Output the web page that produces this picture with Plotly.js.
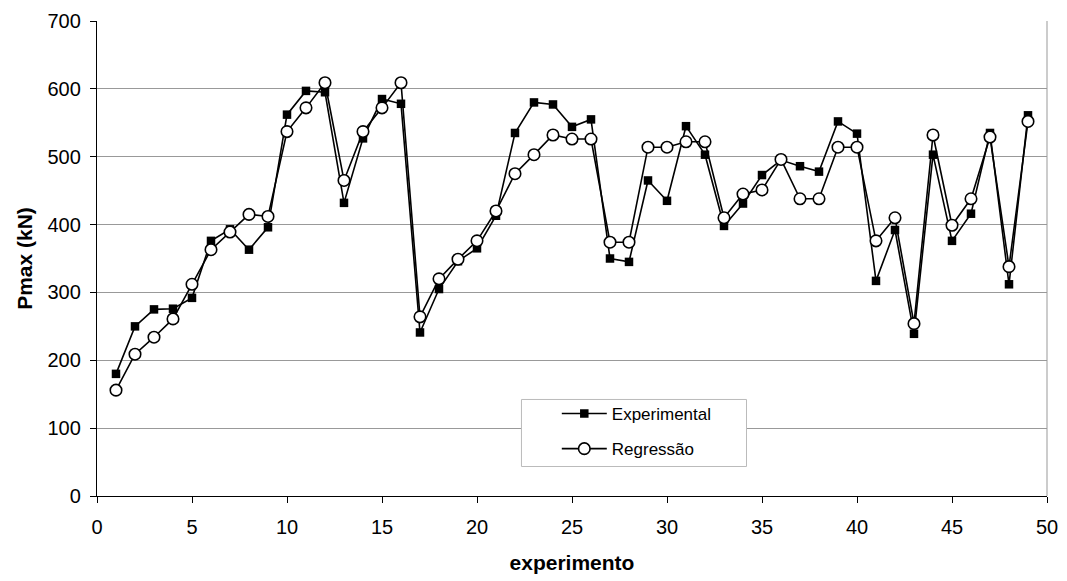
<!DOCTYPE html>
<html>
<head>
<meta charset="utf-8">
<script src="https://cdn.plot.ly/plotly-3.0.1.min.js"></script>
<style>html,body{margin:0;padding:0;background:#fff}#chart{width:1067px;height:581px}</style>
</head>
<body>
<div id="chart"></div>
<script>
const experimento = [1,2,3,4,5,6,7,8,9,10,11,12,13,14,15,16,17,18,19,20,21,22,23,24,25,26,27,28,29,30,31,32,33,34,35,36,37,38,39,40,41,42,43,44,45,46,47,48,49];
const experimental = [180,250,275,276,292,376,393,363,396,562,597,595,432,527,585,578,241,305,346,365,413,535,580,577,544,555,350,345,465,435,545,503,398,431,473,495,486,478,552,534,317,392,239,503,376,416,535,312,561];
const regressao = [156,209,234,261,312,363,389,415,412,537,572,609,465,537,572,609,264,320,349,376,420,475,503,532,526,526,374,374,514,514,522,522,410,445,451,496,438,438,514,514,376,410,254,532,399,438,529,338,552];
const xTicks = [0,5,10,15,20,25,30,35,40,45,50];
const yTicks = [0,100,200,300,400,500,600,700];

const traces = [
  {x: experimento, y: experimental, name: 'Experimental', legendgroup: 'a', type: 'scatter', mode: 'lines+markers',
   line: {color: '#000', width: 1.6},
   marker: {symbol: 'square', size: 8.5, color: '#000', line: {color: '#000', width: 0}}},
  {x: experimento, y: regressao, name: 'Regressão', legendgroup: 'b', type: 'scatter', mode: 'lines+markers',
   line: {color: '#000', width: 1.6},
   marker: {symbol: 'circle', size: 11.5, color: '#fff', line: {color: '#000', width: 1.6}}}
];

const layout = {
  width: 1067, height: 581,
  margin: {l: 97, r: 20, t: 21, b: 85},
  paper_bgcolor: '#fff', plot_bgcolor: '#fff',
  font: {family: 'Liberation Sans, Arial, sans-serif', size: 20, color: '#000'},
  showlegend: true,
  legend: {x: 0.484, y: 0.2105, xanchor: 'left', yanchor: 'top',
    bgcolor: 'rgba(0,0,0,0)', borderwidth: 0,
    font: {size: 17, color: '#000'}, itemwidth: 45, tracegroupgap: 10},
  xaxis: {
    range: [0, 50], tickvals: xTicks, ticktext: xTicks.map(String),
    showgrid: false, zeroline: false,
    showline: true, linecolor: '#000', linewidth: 1.2,
    ticks: 'outside', ticklen: 6, tickcolor: '#000', tickwidth: 1,
    tickfont: {size: 20}, ticklabelstandoff: 7,
    title: {text: '<b>experimento</b>', font: {size: 21}, standoff: 18}
  },
  yaxis: {
    range: [0, 700], tickvals: yTicks, ticktext: yTicks.map(String),
    showgrid: true, gridcolor: '#999', gridwidth: 1, zeroline: false,
    showline: true, linecolor: '#000', linewidth: 1.2,
    ticks: 'outside', ticklen: 6, tickcolor: '#000', tickwidth: 1,
    tickfont: {size: 20}, ticklabelstandoff: 5,
    title: {text: '<b>Pmax (kN)</b>', font: {size: 21}, standoff: 9}
  },
  shapes: [
    {type: 'line', xref: 'paper', yref: 'paper', x0: 1, x1: 1, y0: 0, y1: 1,
     line: {color: '#999', width: 1}},
    {type: 'rect', xref: 'paper', yref: 'paper', layer: 'above',
     x0: 0.4468, x1: 0.6837, y0: 0.0621, y1: 0.2032,
     fillcolor: '#fff', line: {color: '#bbb', width: 1}}
  ]
};

Plotly.newPlot('chart', traces, layout, {displayModeBar: false, staticPlot: true});
</script>
</body>
</html>
